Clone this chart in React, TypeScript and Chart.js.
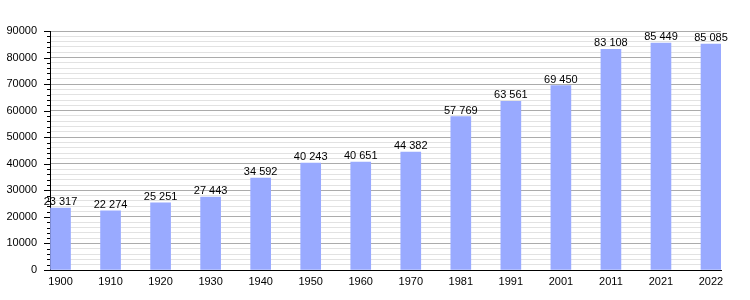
import React, { useEffect, useRef } from "react";
import { Chart, registerables } from "chart.js";

Chart.register(...registerables);

const years = ["1900", "1910", "1920", "1930", "1940", "1950", "1960", "1970", "1981", "1991", "2001", "2011", "2021", "2022"];
const population = [23317, 22274, 25251, 27443, 34592, 40243, 40651, 44382, 57769, 63561, 69450, 83108, 85449, 85085];
const yMax = 90000;
const yStep = 2000;

const fmt = (v: number) => String(v).replace(/\B(?=(\d{3})+(?!\d))/g, " ");

const FONT = "'Liberation Sans', Arial, sans-serif";

const extrasPlugin = {
  id: "extras",
  afterDatasetsDraw(chart: any) {
    const ctx = chart.ctx;
    const meta = chart.getDatasetMeta(0);
    ctx.save();
    ctx.fillStyle = "#000";
    ctx.font = `11px ${FONT}`;
    ctx.textAlign = "center";
    ctx.textBaseline = "alphabetic";
    meta.data.forEach((bar: any, i: number) => {
      ctx.fillText(fmt(population[i]), bar.x, bar.y - 3);
    });
    // y axis tick marks
    const y = chart.scales.y;
    const left = chart.chartArea.left;
    ctx.strokeStyle = "#000";
    ctx.lineWidth = 1;
    ctx.beginPath();
    for (let v = 0; v <= yMax; v += yStep) {
      const py = Math.round(y.getPixelForValue(v)) + 0.5;
      const len = v % 10000 === 0 ? 6 : 3;
      ctx.moveTo(left - len, py);
      ctx.lineTo(left, py);
    }
    ctx.stroke();
    ctx.restore();
  },
};

export default function App() {
  const ref = useRef<HTMLCanvasElement>(null);
  useEffect(() => {
    document.body.style.margin = "0";
    const chart = new Chart(ref.current!, {
      type: "bar",
      data: {
        datasets: [
          {
            data: population.map((v, i) => ({ x: i, y: v })),
            backgroundColor: "#99aaff",
            borderWidth: 0,
            barThickness: 20,
          },
        ],
      },
      plugins: [extrasPlugin],
      options: {
        animation: false,
        responsive: false,
        maintainAspectRatio: false,
        layout: { padding: { top: 31, right: 29, left: 0, bottom: 0 } },
        plugins: { legend: { display: false }, tooltip: { enabled: false } },
        scales: {
          x: {
            type: "linear",
            offset: false,
            min: -0.21,
            max: 13.2,
            afterBuildTicks: (scale: any) => {
              scale.ticks = years.map((_, i) => ({ value: i }));
            },
            afterFit: (scale: any) => {
              scale.height = 30;
            },
            grid: { display: false, drawTicks: false, offset: false },
            border: { display: true, color: "#000", width: 1 },
            ticks: {
              padding: 5,
              color: "#000",
              font: { family: FONT, size: 11 },
              maxRotation: 0,
              autoSkip: false,
              callback: (v: any) => years[Math.round(Number(v))] ?? "",
            },
          },
          y: {
            min: 0,
            max: yMax,
            afterFit: (scale: any) => {
              scale.width = 50;
            },
            grid: {
              color: (c: any) => (c.tick && c.tick.value % 10000 === 0 ? "#ababab" : "#e2e2e2"),
              tickColor: "rgba(0,0,0,0)",
              tickLength: 6,
            },
            border: { display: true, color: "#000", width: 1 },
            ticks: {
              stepSize: yStep,
              autoSkip: false,
              padding: 7,
              color: "#000",
              font: { family: FONT, size: 11 },
              callback: (v: any) => (Number(v) % 10000 === 0 ? String(v) : ""),
            },
          },
        },
      },
    } as any);
    return () => chart.destroy();
  }, []);
  return (
    <div style={{ position: "absolute", left: 0, top: 0, width: 750, height: 300, background: "#fff" }}>
      <canvas ref={ref} width={750} height={300} style={{ width: 750, height: 300 }} />
    </div>
  );
}
